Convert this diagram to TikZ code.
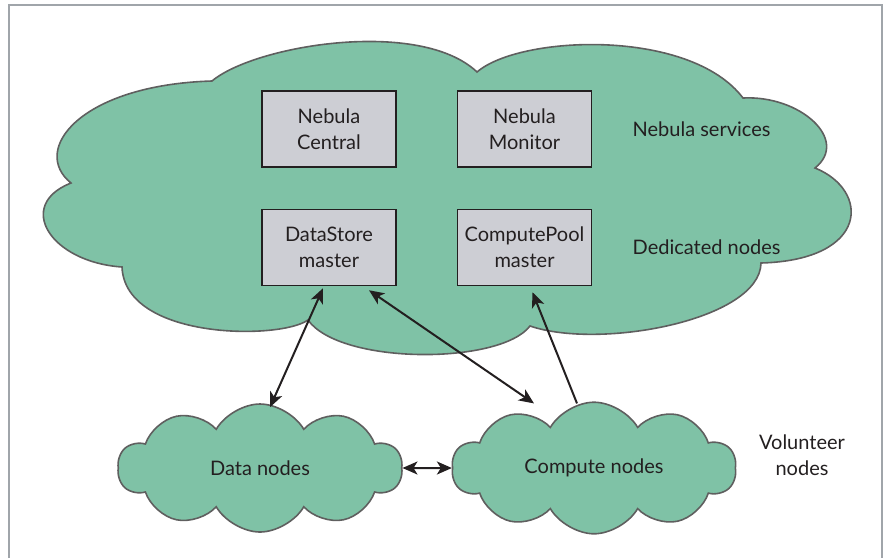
\documentclass[tikz,border=0pt]{standalone}
\usepackage{fontspec}
\setmainfont{Lato}
\usetikzlibrary{positioning,shapes.symbols,arrows.meta}
\definecolor{cloudgreen}{RGB}{127,194,166}
\definecolor{cloudline}{RGB}{95,95,95}
\definecolor{boxgrey}{RGB}{205,206,212}
\definecolor{inkdark}{RGB}{35,31,32}
\definecolor{framegrey}{RGB}{160,165,170}

\begin{document}
\begin{tikzpicture}[x=0.5pt, y=-0.5pt,
    box/.style={draw=inkdark, line width=0.75pt, rectangle, fill=boxgrey, text=inkdark, align=center, minimum height=38pt, minimum width=67pt, inner sep=0pt, font=\fontsize{10}{13}\selectfont},
    puff/.style={cloud, cloud puffs=10, cloud puff arc=120, aspect=2.2, draw=cloudline, line width=0.8pt, fill=cloudgreen, minimum width=142pt, minimum height=64pt, text=inkdark, font=\fontsize{10}{13}\selectfont},
    tag/.style={text=inkdark, align=center, inner sep=0pt, font=\fontsize{10}{13}\selectfont},
    arrow/.style={-{Stealth[length=7.5pt,width=6.5pt,inset=2pt]}, line width=1pt, inkdark},
    twoway/.style={{Stealth[length=7.5pt,width=6.5pt,inset=2pt]}-{Stealth[length=7.5pt,width=6.5pt,inset=2pt]}, line width=1pt, inkdark}
]
    \useasboundingbox (0,0) rectangle (887,558);
    \draw[framegrey, line width=0.8pt] (9,558) -- (9,5) -- (882,5) -- (882,558);

    \draw[cloudline, line width=0.8pt, fill=cloudgreen]
        (71,183) .. controls (30,150) and (80,85) .. (212,81)
        .. controls (255,45) and (420,18) .. (477,72)
        .. controls (520,35) and (690,28) .. (743,98)
        .. controls (800,95) and (850,140) .. (815,168)
        .. controls (870,190) and (870,260) .. (761,263)
        .. controls (760,320) and (600,350) .. (530,326)
        .. controls (500,365) and (340,365) .. (308,320)
        .. controls (280,340) and (125,340) .. (122,267)
        .. controls (50,262) and (15,205) .. cycle;

    \node (ncentral) [box] at (329,129) {Nebula\\Central};
    \node (nmonitor) [box, right=30pt of ncentral] {Nebula\\Monitor};
    \node (dsmaster) [box, below=20.5pt of ncentral] {DataStore\\master};
    \node (cpmaster) [box, below=20.5pt of nmonitor] {ComputePool\\master};
    \node (services) [tag, right=20pt of nmonitor] {Nebula services};
    \node (dedicated) [tag, right=20pt of cpmaster] {Dedicated nodes};
    \node (datan) [puff] at (260,468) {Data nodes};
    \node (compn) [puff] at (594,468) {Compute nodes};
    \node (volunteer) [tag] at (802,455) {Volunteer\\nodes};

    \draw [twoway] ([xshift=-3pt,yshift=-1pt]dsmaster.south) -- ([xshift=5pt,yshift=-2pt]datan.north);
    \draw [twoway] ([xshift=20pt,yshift=-2pt]dsmaster.south) -- ([xshift=-30pt,yshift=-1pt]compn.north);
    \draw [arrow] ([xshift=-8.5pt,yshift=-1pt]compn.north) -- ([xshift=4pt,yshift=-3pt]cpmaster.south);
    \draw [twoway] (datan.east) -- (compn.west);
\end{tikzpicture}
\end{document}
